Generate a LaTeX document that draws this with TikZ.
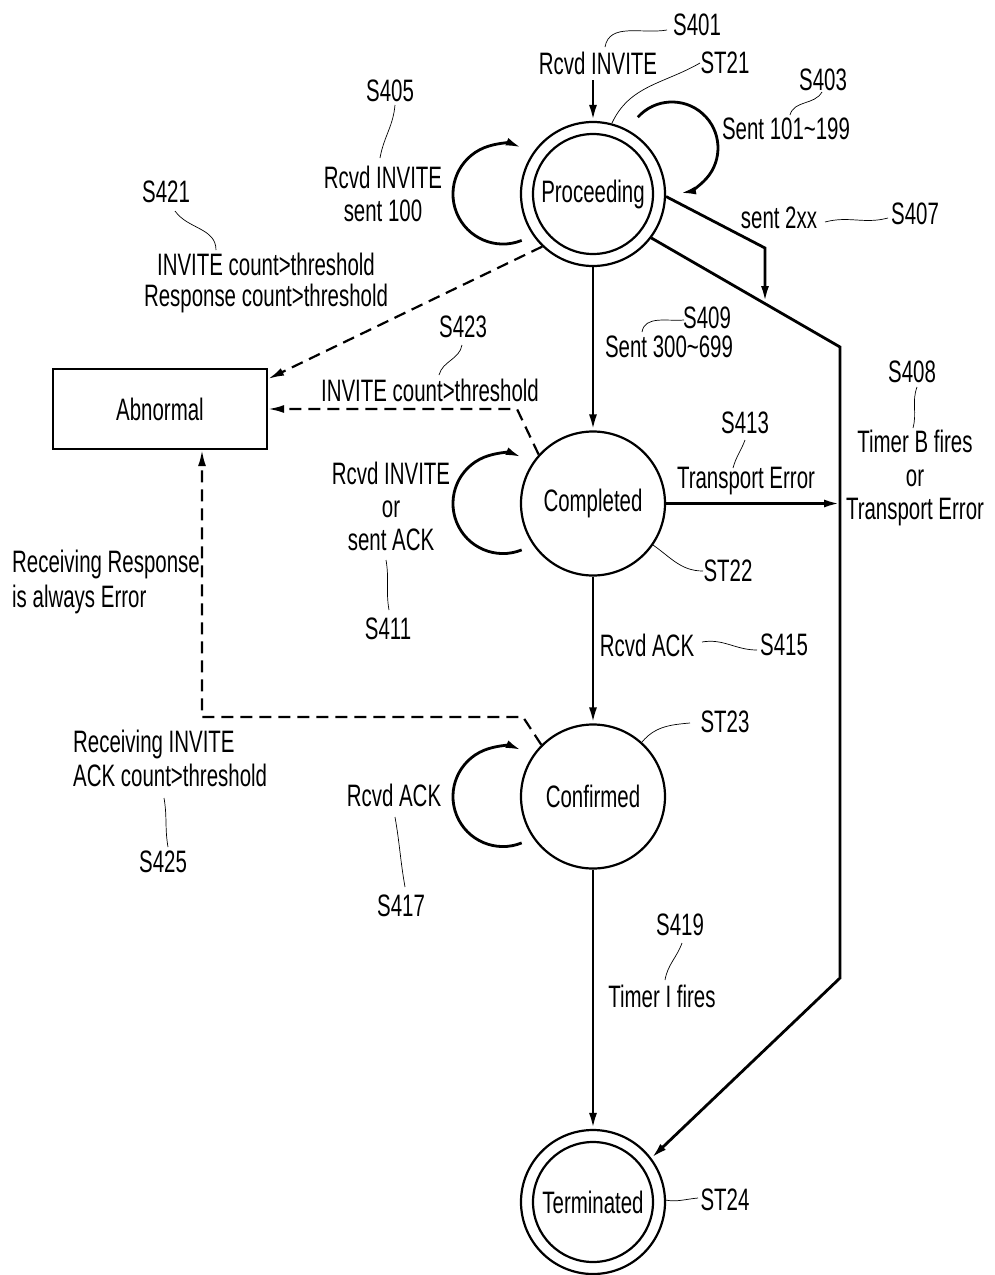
\documentclass[tikz,border=0pt]{standalone}
\usepackage{fontspec}
\setmainfont[FakeStretch=0.66]{Liberation Sans}
\usetikzlibrary{arrows.meta,calc}
\begin{document}
\begin{tikzpicture}[x=1pt,y=1pt,
  font=\fontsize{31}{33}\selectfont,
  state/.style={circle, draw, line width=2.2pt, minimum size=144pt, inner sep=0pt},
  box/.style={rectangle, draw, line width=2.2pt, minimum width=214pt, minimum height=80pt, inner sep=0pt},
  arr/.style={line width=2.8pt, -{Latex[length=16pt,width=8pt]}},
  darr/.style={line width=2.2pt, dash pattern=on 12pt off 7pt, -{Latex[length=16pt,width=8pt]}},
  lead/.style={line width=0.7pt},
  lbl/.style={inner sep=0pt, align=center},
  lbll/.style={inner sep=0pt, align=left, anchor=west}
]
\useasboundingbox (0,0) rectangle (995,-1275);

% states
\node[state] (proc) at (593,-194) {Proceeding};
\draw[line width=2.2pt] (proc.center) circle[radius=60];
\node[state] (comp) at (593,-503.5) {Completed};
\node[state] (conf) at (593,-796.5) {Confirmed};
\node[state] (term) at (593,-1202) {Terminated};
\draw[line width=2.2pt] (term.center) circle[radius=60];
\node[box] (abn) at (160,-409) {Abnormal};

% entry
\coordinate (entry) at (593,-80);
\draw[arr] (entry) -- (proc.north);
\node[lbl] (t401a) at (598,-63) {Rcvd INVITE};
\node[lbl] (s401) at (697,-25) {S401};
\draw[lead] (605,-47) to[out=80,in=190] (667,-30);
\node[lbl] (st21) at (725,-63) {ST21};
\draw[lead] (612,-123) to[out=65,in=210] (700,-63);

% main vertical transitions
\draw[arr] (proc.south) -- (comp.north);
\draw[arr] (comp.south) -- (conf.north);
\draw[arr] (conf.south) -- (term.north);

% self loops left
\draw[arr] ([shift={(-71.3,-46.4)}]proc.center) arc[start angle=-68, end angle=-292, radius=50];
\draw[arr] ([shift={(-71.3,-46.4)}]comp.center) arc[start angle=-68, end angle=-292, radius=50];
\draw[arr] ([shift={(-71.3,-46.4)}]conf.center) arc[start angle=-68, end angle=-292, radius=50];
% self loop right of Proceeding
\draw[arr] ([shift={(44.8,76.8)}]proc.center) arc[start angle=138, end angle=-80, radius=46];

% labels of loops
\node[lbl] (t403) at (786,-129) {Sent 101\textasciitilde199};
\node[lbl] (s403) at (823,-80) {S403};
\draw[lead] (790,-115) to[out=75,in=240] (822,-92);

\node[lbl] (t405) at (383,-194) {Rcvd INVITE\\sent 100};
\node[lbl] (s405) at (390,-91) {S405};
\draw[lead] (395,-105) to[out=-95,in=80] (380,-158);

\node[lbl] (t411) at (391,-506) {Rcvd INVITE\\or\\sent ACK};
\draw[lead] (386,-560) to[out=-80,in=100] (389,-610);
\node[lbl] (s411) at (388,-629) {S411};

\node[lbl] (t417) at (394,-795) {Rcvd ACK};
\draw[lead] (395,-817) to[out=-80,in=100] (405,-887);
\node[lbl] (s417) at (401,-906) {S417};

% sent 2xx and timer B
\coordinate (bend1) at (765,-248);
\coordinate (onlow) at (765,-302);
\coordinate (c1) at (840,-347);
\coordinate (c2) at (840,-978);
\draw[arr] (proc.-2) -- (bend1) -- (onlow);
\draw[arr] (proc.-37) -- (c1) -- (c2) -- (term.37);
\node[lbl] (t407) at (779,-218) {sent 2xx};
\draw[lead] (825,-222) to[out=15,in=195] (888,-218);
\node[lbl] (s407) at (915,-214) {S407};

\node[lbl] (s408) at (912,-372) {S408};
\draw[lead] (917,-387) to[out=-110,in=75] (913,-428);
\node[lbl, font=\fontsize{31}{33.5}\selectfont] (t408) at (915,-478) {Timer B fires\\or\\Transport Error};

% S409
\node[lbl] (s409) at (707,-318) {S409};
\node[lbl] (t409) at (669,-347) {Sent 300\textasciitilde699};
\draw[lead] (642,-332) to[out=80,in=185] (684,-320);

% S413
\coordinate (onvert) at (840,-503.5);
\draw[arr] (comp.east) -- (onvert);
\node[lbl] (s413) at (745,-423) {S413};
\draw[lead] (745,-440) to[out=-110,in=75] (733,-468);
\node[lbl] (t413) at (746,-481) {Transport Error};

\node[lbl] (st22) at (728,-571) {ST22};
\draw[lead] (653,-545) to[out=-35,in=180] (703,-571);

% S415
\node[lbl] (t415) at (647,-645) {Rcvd ACK};
\draw[lead] (702,-642) to[out=10,in=180] (757,-650);
\node[lbl] (s415) at (784,-645) {S415};

\node[lbl] (st23) at (725,-722) {ST23};
\draw[lead] (642,-742) to[out=50,in=185] (690,-723);

% S419
\node[lbl] (s419) at (680,-925) {S419};
\draw[lead] (682,-943) to[out=-110,in=80] (665,-980);
\node[lbl] (t419) at (662,-996) {Timer I fires};

\node[lbl] (st24) at (725,-1200) {ST24};
\draw[lead] (665,-1200) to[out=-10,in=185] (698,-1198);

% abnormal transitions
\draw[darr] (proc.226) -- ([yshift=-11pt]abn.north east);
\node[lbl] (s421) at (166,-192) {S421};
\draw[lead] (175,-211) to[out=-55,in=90] (216,-250);
\node[lbl, font=\fontsize{31}{31}\selectfont] (t421) at (266,-283) {INVITE count>threshold\\Response count>threshold};

\coordinate (d1) at (517,-409);
\draw[darr] (comp.138) -- (d1) -- (abn.east);
\node[lbl] (s423) at (463,-327) {S423};
\draw[lead] (462,-345) to[out=-100,in=75] (439,-375);
\node[lbl] (t423) at (430,-390) {INVITE count>threshold};

\coordinate (d2) at (523,-717);
\coordinate (d3) at (202,-717);
\draw[darr] (conf.135) -- (d2) -- (d3) -- ([xshift=42pt]abn.south);
\node[lbll, font=\fontsize{31}{35}\selectfont] (t425a) at (12,-581.5) {Receiving Response\\is always Error};
\node[lbll, font=\fontsize{31}{34}\selectfont] (t425) at (73,-758) {Receiving INVITE\\ACK count>threshold};
\draw[lead] (164,-798) to[out=-80,in=100] (168,-847);
\node[lbl] (s425) at (163,-862) {S425};
\end{tikzpicture}
\end{document}
